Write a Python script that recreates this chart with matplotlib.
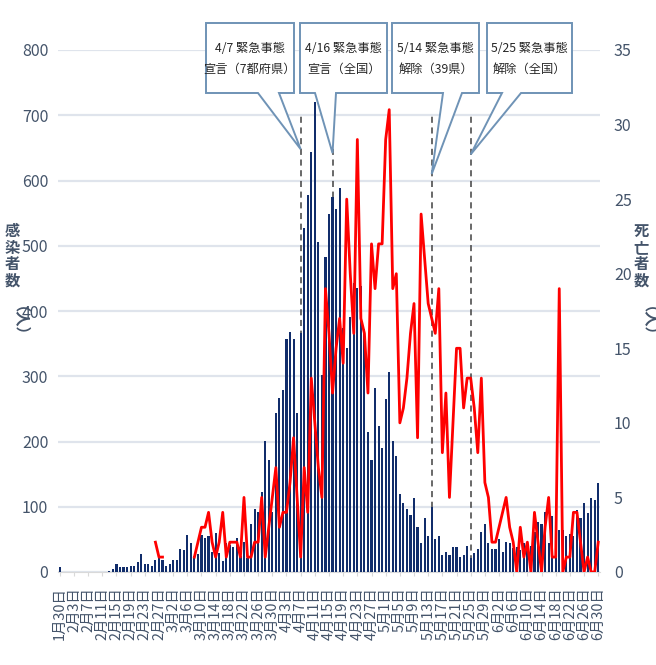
import matplotlib
matplotlib.use('Agg')
import matplotlib.pyplot as plt
from matplotlib.patches import Polygon
import numpy as np
import pandas as pd

# daily data, 2020-01-30 .. 2020-06-30
dates = pd.date_range('2020-01-30', '2020-06-30', freq='D')

cases = [7] + [0] * 13 + [
    2, 4, 12, 7, 7, 7, 9, 9, 15, 27, 12, 12, 9, 19, 22, 19, 9, 12, 19, 19,
    36, 33, 56, 44, 24, 27,
    57, 52, 55, 31, 60, 29, 17, 44, 41, 38, 52, 24, 46, 21, 73, 96, 92, 122,
    201, 172, 92, 244, 267, 279, 357, 368, 357, 243, 366,
    527, 578, 644, 720, 505, 302, 482, 548, 574, 557, 589, 374, 343, 391, 443,
    436, 438, 372, 215, 172, 282, 224, 190, 265, 306, 201, 178, 119, 105, 97,
    87, 113,
    69, 44, 82, 55, 99, 50, 55, 26, 30, 26, 38, 38, 23, 26, 40, 21, 29, 35,
    62, 73, 44, 35, 35, 50, 30, 46, 44, 37, 38, 34, 44, 40, 40, 62, 76, 74,
    92, 44, 86, 44, 64, 64, 55, 58, 55, 95, 82, 105, 91, 113, 110, 137,
]

nan = np.nan
deaths = [nan] * 27 + [2, 1, 1] + [nan] * 8 + [
    1, 2, 3, 3, 4, 2, 1, 2, 4, 1, 2, 2, 2, 1, 5, 1, 1, 2, 2, 5, 1, 3, 5, 7,
    3, 4, 4, 6, 9, 5, 1,
    7, 4, 13, 10, 7, 5, 19, 16, 12, 15, 17, 14, 25, 20, 16, 29, 17, 16, 12,
    22, 19, 22, 22, 29, 31, 19, 20,
    10, 11, 13, 16, 18, 9, 24, 21, 18, 17, 16, 19, 8, 12, 5, 10, 15, 15, 11,
    13, 13, 11, 8, 13, 6, 5, 2, 2, 3, 4, 5, 3, 2, 0, 3, 1, 2, 0, 4, 2, 0, 3,
    5, 1, 1, 19, 0, 1, 1, 4, 4, 2, 0, 1, 0, 0, 2,
]

events = ['2020-04-07', '2020-04-16', '2020-05-14', '2020-05-25']
event_labels = ['4/7 緊急事態\n宣言（7都府県）', '4/16 緊急事態\n宣言（全国）',
                '5/14 緊急事態\n解除（39県）', '5/25 緊急事態\n解除（全国）']

tick_color = '#44546a'
fam = ['Liberation Sans Narrow', 'Noto Sans CJK JP']
jp = ['Noto Sans CJK JP', 'DejaVu Sans']

W, H = 656, 665
fig = plt.figure(figsize=(W / 100, H / 100), dpi=100)
ax = fig.add_axes([58 / W, 1 - 572 / H, 542 / W, 522 / H])
x = np.arange(len(dates))

ax.bar(x, cases, width=0.6, color='#112d6b', zorder=3)
ax.set_xlim(-0.5, len(dates) - 0.5)
ax.set_ylim(0, 800)
ax.set_yticks(range(0, 801, 100))
ax.grid(axis='y', color='#dfe4ec', linewidth=1.6, zorder=0)
ax.set_axisbelow(True)
for s in ['top', 'left', 'right']:
    ax.spines[s].set_visible(False)
ax.spines['bottom'].set_color('#d9d9d9')

ticks = x[::4]
ax.set_xticks(ticks)
ax.set_xticklabels([f'{d.month}月{d.day}日' for d in dates[::4]], rotation=90,
                   family=fam, fontsize=10.4, color=tick_color)
ax.tick_params(axis='x', length=3, color='#d9d9d9', pad=8)
ax.tick_params(axis='y', length=0, pad=7, labelsize=11.5, labelcolor=tick_color)
for t in ax.get_yticklabels():
    t.set_family(fam)

# event lines
event_idx = [dates.get_loc(pd.Timestamp(e)) for e in events]
for i in event_idx:
    ax.plot([i, i], [0, 700], color='#404040', lw=1.1, ls=(0, (4, 3)), zorder=2)

ax2 = ax.twinx()
ax2.plot(x, deaths, color='#ff0000', lw=2, zorder=4)
ax2.set_ylim(0, 35)
ax2.set_yticks(range(0, 36, 5))
for s in ['top', 'left', 'right', 'bottom']:
    ax2.spines[s].set_visible(False)
ax2.tick_params(axis='y', length=0, pad=10, labelsize=11.5, labelcolor=tick_color)
for t in ax2.get_yticklabels():
    t.set_family(fam)

# axis titles (vertical)
for xp, word in [(12, '感\n染\n者\n数'), (641, '死\n亡\n者\n数')]:
    fig.text(xp / W, 1 - 256 / H, word, ha='center', va='center',
             family=jp, fontsize=11, color=tick_color, fontweight='bold',
             linespacing=1.05)
    fig.text(xp / W, 1 - 329 / H, '（人）', ha='center', va='center',
             rotation=-90, family=jp, fontsize=11, color=tick_color,
             fontweight='bold')

# callouts, drawn in pixel space of an overlay axes
ov = fig.add_axes([0, 0, 1, 1], zorder=5)
ov.set_xlim(0, W)
ov.set_ylim(H, 0)
ov.axis('off')
boxes = [(206, 294, 258, 279), (300, 387, 315, 336),
         (392, 479, 443, 462), (487, 572, 502, 521)]
tip_vals = [648, 642, 610, 640]
for (l, r, b1, b2), i, tv, txt in zip(boxes, event_idx, tip_vals, event_labels):
    tx, ty = ax.transData.transform((i, tv))
    ty = H - ty
    top, bot = 23, 93
    pts = [(l, top), (r, top), (r, bot), (b2, bot), (tx, ty), (b1, bot), (l, bot)]
    ov.add_patch(Polygon(pts, closed=True, facecolor='white',
                         edgecolor='#6f93b6', lw=1.4))
    ov.text((l + r) / 2, (top + bot) / 2 + 1, txt, ha='center', va='center',
            family=jp, fontsize=8.8, color='#262626', linespacing=1.7)

fig.savefig('out.png', dpi=100)
